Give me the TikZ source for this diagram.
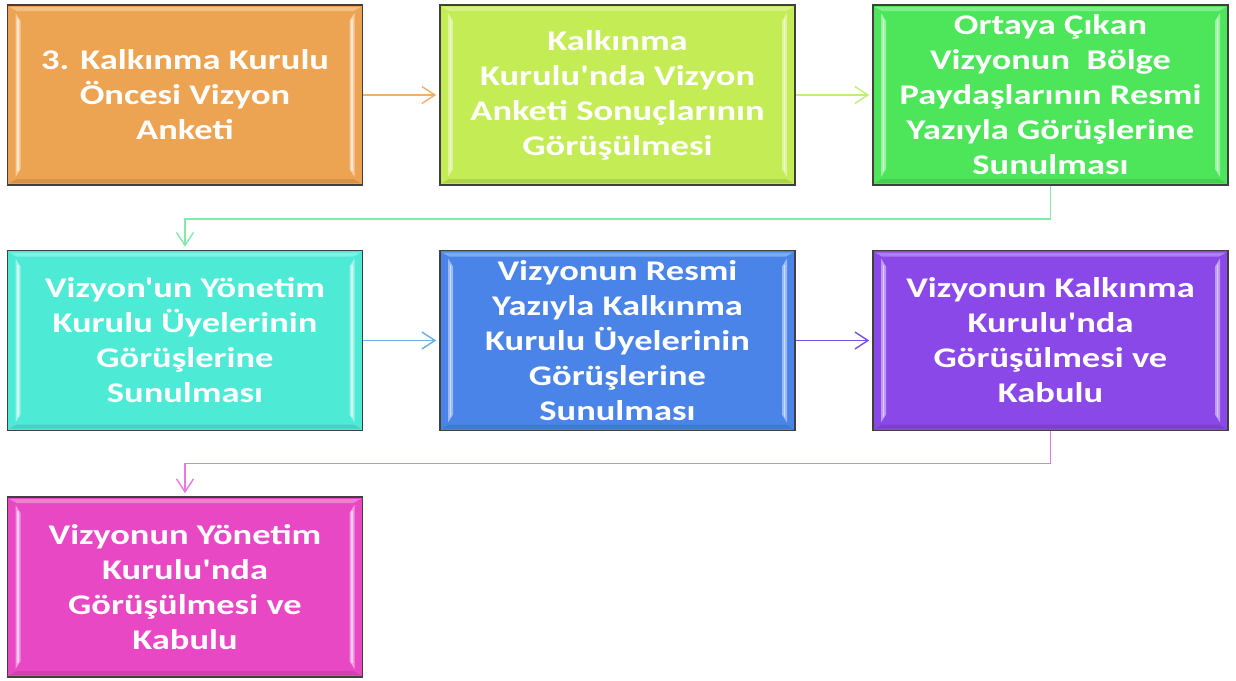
\documentclass[tikz,border=0pt]{standalone}
\usepackage{fontspec}
\newfontfamily\boxfont[FakeStretch=1.28]{Carlito}
\usetikzlibrary{arrows.meta,calc}
\definecolor{cA}{RGB}{237,164,82}
\definecolor{cB}{RGB}{196,236,85}
\definecolor{cC}{RGB}{77,230,90}
\definecolor{cD}{RGB}{77,234,214}
\definecolor{cE}{RGB}{74,132,232}
\definecolor{cF}{RGB}{138,72,232}
\definecolor{cG}{RGB}{232,72,196}
\definecolor{aA}{RGB}{240,175,110}
\definecolor{aB}{RGB}{190,240,120}
\definecolor{aC}{RGB}{130,235,170}
\definecolor{aD}{RGB}{100,175,235}
\definecolor{aE}{RGB}{120,80,220}
\definecolor{aF}{RGB}{235,120,225}
\definecolor{edge}{RGB}{64,64,64}
\tikzset{
  stepbox/.style={draw=edge, line width=1.6pt, minimum width=355pt, minimum height=180pt,
    inner sep=0pt, text=white, align=center,
    font=\boxfont\bfseries\fontsize{28.5}{35}\selectfont,
    path picture={
      \fill[white,opacity=0.30] ([shift={(2pt,-2pt)}]path picture bounding box.north west)
        -- ([shift={(-2pt,-2pt)}]path picture bounding box.north east)
        -- ([shift={(-9pt,-6pt)}]path picture bounding box.north east)
        -- ([shift={(9pt,-6pt)}]path picture bounding box.north west) -- cycle;
      \fill[black,opacity=0.10] ([shift={(2pt,2pt)}]path picture bounding box.south west)
        -- ([shift={(-2pt,2pt)}]path picture bounding box.south east)
        -- ([shift={(-9pt,6pt)}]path picture bounding box.south east)
        -- ([shift={(9pt,6pt)}]path picture bounding box.south west) -- cycle;
      \fill[white,opacity=0.45] ([shift={(8pt,-8pt)}]path picture bounding box.north west)
        -- ([shift={(13pt,-16pt)}]path picture bounding box.north west)
        -- ([shift={(13pt,16pt)}]path picture bounding box.south west)
        -- ([shift={(8pt,8pt)}]path picture bounding box.south west) -- cycle;
      \fill[white,opacity=0.45] ([shift={(-8pt,-8pt)}]path picture bounding box.north east)
        -- ([shift={(-13pt,-16pt)}]path picture bounding box.north east)
        -- ([shift={(-13pt,16pt)}]path picture bounding box.south east)
        -- ([shift={(-8pt,8pt)}]path picture bounding box.south east) -- cycle;
      \draw[white,opacity=0.5,line width=1.2pt] ([shift={(10.5pt,-14pt)}]path picture bounding box.north west)
        -- ([shift={(10.5pt,14pt)}]path picture bounding box.south west);
      \draw[white,opacity=0.5,line width=1.2pt] ([shift={(-10.5pt,-14pt)}]path picture bounding box.north east)
        -- ([shift={(-10.5pt,14pt)}]path picture bounding box.south east);
    }},
  conn/.style={line width=1.4pt, shorten >=3pt,
    -{Straight Barb[length=13pt,width=17pt,line width=1.4pt]}}
}
\begin{document}
\begin{tikzpicture}[x=1pt,y=-1pt]
\useasboundingbox[fill=white] (0,0) rectangle (1236,680);
\node[stepbox, fill=cA] (b1) at (185,95) {3. Kalkınma Kurulu\\Öncesi Vizyon\\Anketi};
\node[stepbox, fill=cB] (b2) at (617.5,95) {Kalkınma\\Kurulu'nda Vizyon\\Anketi Sonuçlarının\\Görüşülmesi};
\node[stepbox, fill=cC] (b3) at (1050.5,95) {Ortaya Çıkan\\Vizyonun~~Bölge\\Paydaşlarının Resmi\\Yazıyla Görüşlerine\\Sunulması};
\node[stepbox, fill=cD] (b4) at (185,340.5) {Vizyon'un Yönetim\\Kurulu Üyelerinin\\Görüşlerine\\Sunulması};
\node[stepbox, fill=cE] (b5) at (617.5,340.5) {Vizyonun Resmi\\Yazıyla Kalkınma\\Kurulu Üyelerinin\\Görüşlerine\\Sunulması};
\node[stepbox, fill=cF] (b6) at (1050.5,340.5) {Vizyonun Kalkınma\\Kurulu'nda\\Görüşülmesi ve\\Kabulu};
\node[stepbox, fill=cG] (b7) at (185,587) {Vizyonun Yönetim\\Kurulu'nda\\Görüşülmesi ve\\Kabulu};
\coordinate (k3) at ([yshift=-33pt]b3.south);
\coordinate (k6) at ([yshift=-32pt]b6.south);
\draw[conn, aA] (b1.east) -- (b2.west);
\draw[conn, aB] (b2.east) -- (b3.west);
\draw[conn, aC] (b3.south) -- (k3) -| (b4.north);
\draw[conn, aD] (b4.east) -- (b5.west);
\draw[conn, aE] (b5.east) -- (b6.west);
\draw[conn, aF] (b6.south) -- (k6) -| (b7.north);
\end{tikzpicture}
\end{document}
